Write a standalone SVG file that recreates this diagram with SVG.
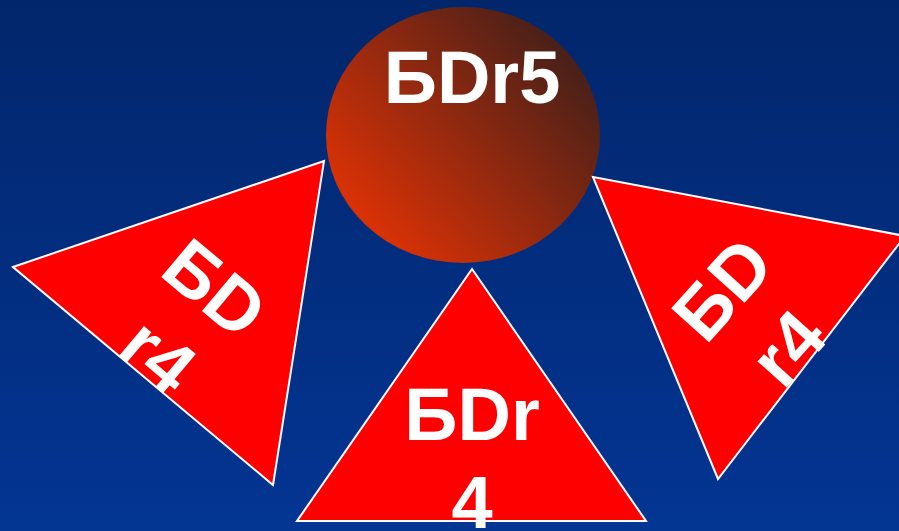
<svg xmlns="http://www.w3.org/2000/svg" width="899" height="531" viewBox="0 0 899 531">
<defs>
<linearGradient id="bg" x1="0" y1="0" x2="0" y2="1">
<stop offset="0" stop-color="#02266b"/>
<stop offset="1" stop-color="#033593"/>
</linearGradient>
<linearGradient id="ball" x1="0.1" y1="0.85" x2="0.95" y2="0.15">
<stop offset="0" stop-color="#e03205"/>
<stop offset="1" stop-color="#3e1f1a"/>
</linearGradient>
<style>
.tri{fill:#ff0000;stroke:#ffffff;stroke-width:2;stroke-linejoin:miter}
.lbl{font-family:"Liberation Sans",Arial,sans-serif;font-weight:bold;font-size:74px;fill:#ffffff;text-anchor:middle}
</style>
</defs>
<rect width="899" height="531" fill="url(#bg)"/>
<g id="connectors"></g>
<g id="node-top">
<ellipse cx="463" cy="135" rx="137" ry="128" fill="url(#ball)"/>
<text class="lbl" x="472" y="103">БDr5</text>
</g>
<g id="node-left">
<polygon class="tri" points="13,267 324,161 273,485"/>
<g transform="translate(215,288) rotate(40)">
<text class="lbl" x="0" y="26">БD</text>
<text class="lbl" x="0" y="114">r4</text>
</g>
</g>
<g id="node-right">
<polygon class="tri" points="593,177 905,236 718,479"/>
<g transform="translate(722,289) rotate(-48)">
<text class="lbl" x="0" y="26">БD</text>
<text class="lbl" x="0" y="114">r4</text>
</g>
</g>
<g id="node-bottom">
<polygon class="tri" points="472,269 297,521 646,521"/>
<text class="lbl" x="472" y="440">БDr</text>
<text class="lbl" x="472" y="528">4</text>
</g>
</svg>
